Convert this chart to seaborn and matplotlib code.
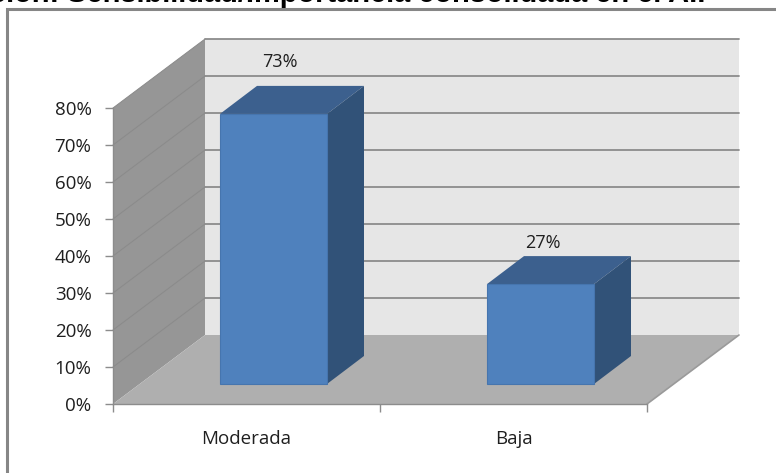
import matplotlib
matplotlib.use("Agg")
import matplotlib.pyplot as plt
from matplotlib.patches import Polygon
from matplotlib.lines import Line2D
import pandas as pd
import seaborn as sns

categories = ["Moderada", "Baja"]
values = [73, 27]
value_labels = ["73%", "27%"]
y_ticks = [0, 10, 20, 30, 40, 50, 60, 70, 80]
y_tick_labels = ["0%", "10%", "20%", "30%", "40%", "50%", "60%", "70%", "80%"]
title = "ción: Sensibilidad/Importancia consolidada en el AII"

W, H = 776, 473
sns.set_theme(style="white")
plt.rcParams["font.family"] = ["Open Sans", "DejaVu Sans"]

fig = plt.figure(figsize=(W / 100, H / 100), dpi=100, facecolor="white")
L, R, B, T = 113, 647, 404, 108
ax = fig.add_axes([L / W, 1 - B / H, (R - L) / W, (B - T) / H], facecolor="none")

df = pd.DataFrame({"cat": categories, "val": values})
PX_X = 267.0          # pixels per category
PX_Y = 3.7            # pixels per percent
x0 = -160.5 / PX_X
x1 = x0 + (R - L) / PX_X
lift = 20 / PX_Y      # bars stand inside the floor, raised from the front edge

sns.barplot(data=df, x="cat", y="val", width=107 / PX_X, color="#4F81BD", saturation=1,
            bottom=lift, edgecolor="#4675AE", linewidth=0.8, zorder=3, ax=ax)
ax.set_xlim(x0, x1)
ax.set_ylim(0, 80)

GRID = "#8C8C8C"
TEXT = "#1F1F1F"
ddx, ddy = 92 / PX_X, 69 / PX_Y       # wall depth
bdx, bdy = 37 / PX_X, 28 / PX_Y       # bar depth

def poly(pts, color, z, ec="none"):
    ax.add_patch(Polygon(pts, closed=True, facecolor=color, edgecolor=ec, linewidth=0.8,
                         zorder=z, clip_on=False))

top = 80
# back wall, side wall, floor
poly([(x0 + ddx, ddy), (x1 + ddx, ddy), (x1 + ddx, top + ddy), (x0 + ddx, top + ddy)], "#E6E6E6", 0.1)
poly([(x0, 0), (x0 + ddx, ddy), (x0 + ddx, top + ddy), (x0, top)], "#969696", 0.2)
poly([(x0, 0), (x1, 0), (x1 + ddx, ddy), (x0 + ddx, ddy)], "#AFAFAF", 0.4)

for t in y_ticks:
    if t > 0:
        ax.add_line(Line2D([x0 + ddx, x1 + ddx], [t + ddy, t + ddy], color=GRID, lw=1.3,
                           zorder=0.3, clip_on=False))
        ax.add_line(Line2D([x0, x0 + ddx], [t, t + ddy], color="#8A8A8A", lw=0.7,
                           zorder=0.3, clip_on=False))
ax.add_line(Line2D([x1, x1 + ddx], [0, ddy], color="#9A9A9A", lw=1.2, zorder=0.5, clip_on=False))

# 3-D faces of each bar, taken from the bars seaborn drew
for bar, label, off in zip(ax.patches[:2], value_labels, [(6.5, 52), (2, 41)]):
    xa, xb = bar.get_x(), bar.get_x() + bar.get_width()
    yb, yt = bar.get_y(), bar.get_y() + bar.get_height()
    poly([(xa, yt), (xb, yt), (xb + bdx, yt + bdy), (xa + bdx, yt + bdy)], "#3C608E", 2.5)
    poly([(xb, yb), (xb + bdx, yb + bdy), (xb + bdx, yt + bdy), (xb, yt)], "#315278", 2.5)
    ax.annotate(label, xy=((xa + xb) / 2, yt), xytext=(off[0] * 0.72, off[1] * 0.72),
                textcoords="offset points", ha="center", va="center", fontsize=13,
                color=TEXT, zorder=6, annotation_clip=False)

ax.set_xlabel("")
ax.set_ylabel("")
ax.set_yticks(y_ticks, y_tick_labels)
ax.set_xticks([x0, x0 + 1, x0 + 2], ["", "", ""])
ax.set_xticks([x0 + 0.5, x0 + 1.5], categories, minor=True)
ax.tick_params(axis="y", which="major", length=6, width=1, color=GRID, left=True, labelsize=13.5,
               labelcolor=TEXT, pad=9.5)
ax.tick_params(axis="x", which="major", length=5.5, width=1, color=GRID, bottom=True)
ax.tick_params(axis="x", which="minor", length=0, labelsize=13.5, labelcolor=TEXT, pad=18.5)
for s in ["top", "right"]:
    ax.spines[s].set_visible(False)
for s in ["left", "bottom"]:
    ax.spines[s].set_color(GRID)
    ax.spines[s].set_linewidth(1)

# outer frame of the chart, cut by the picture edge
fig.add_artist(Line2D([7 / W, 7 / W, 1], [0, 1 - 9.5 / H, 1 - 9.5 / H], color="#868686", lw=2.2,
                      solid_joinstyle="miter"))
fig.text(705 / W, 1 - 2.5 / H, title, ha="right", va="baseline", fontsize=20.9, fontweight="bold",
         family=["Liberation Sans", "DejaVu Sans"], color="black")

fig.savefig("out.png", dpi=100, facecolor="white")
